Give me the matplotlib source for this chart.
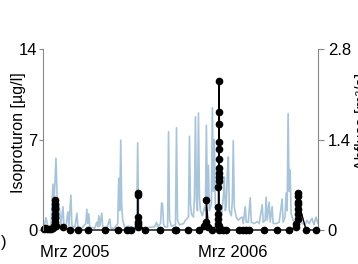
import numpy as np
import matplotlib
matplotlib.use("Agg")
import matplotlib.pyplot as plt

plt.rcParams['font.family'] = ['Liberation Sans', 'DejaVu Sans']

start = np.datetime64('2004-12-17')

# Abfluss (discharge), days since start / m3/s
q_day = [0, 2.3, 6.9, 11.6, 18.5, 23.1, 25.4, 30.0, 32.3, 34.7, 37.0, 41.6, 46.2, 48.5,
         53.1, 57.8, 60.1, 64.7, 67.0, 73.9, 78.5, 80.9, 90.1, 99.3, 101.6, 104.0, 106.3,
         108.6, 120.1, 124.7, 127.1, 129.4, 131.7, 136.3, 138.6, 147.8, 154.8, 157.1,
         166.3, 173.3, 175.6, 177.9, 180.2, 182.5, 184.8, 189.4, 198.7, 210.2, 217.1,
         219.5, 221.8, 224.1, 235.6, 247.2, 258.7, 263.3, 265.7, 272.6, 274.9, 277.2,
         279.5, 281.8, 288.8, 291.1, 293.4, 298.0, 307.2, 309.5, 311.9, 316.5, 325.7,
         330.3, 337.3, 339.6, 341.9, 344.2, 348.8, 351.1, 353.4, 355.8, 358.1, 360.4,
         362.7, 365.0, 369.6, 374.2, 376.5, 378.8, 381.2, 383.5, 385.8, 390.4, 392.7,
         395.0, 397.3, 399.6, 404.3, 408.9, 413.5, 418.1, 420.4, 422.8, 425.1, 427.4,
         429.7, 432.0, 436.6, 438.9, 441.2, 443.5, 448.1, 452.8, 457.4, 462.0, 464.3,
         468.9, 471.2, 475.8, 480.5, 482.8, 489.7, 496.7, 501.3, 508.2, 510.5, 515.1,
         517.4, 519.8, 524.4, 526.7, 531.3, 533.6, 540.5, 547.5, 554.4, 556.7, 561.3,
         563.6, 566.0, 568.3, 570.6, 572.9, 575.2, 579.8, 586.8, 593.7, 598.3, 600.6,
         607.5, 612.2, 616.8, 623.7, 628.3, 632.9, 637.6]
q_val = [0.05, 0.05, 0.19, 0.05, 0.06, 0.71, 0.35, 1.11, 0.62, 0.2, 0.40, 0.08, 0.36, 0.08,
         0.05, 0.28, 0.06, 0.54, 0.07, 0.04, 0.26, 0.05, 0.03, 0.1, 0.32, 0.1, 0.25,
         0.04, 0.03, 0.12, 0.05, 0.22, 0.06, 0.26, 0.04, 0.03, 0.17, 0.03,
         0.03, 0.10, 0.80, 0.3, 1.39, 0.4, 0.15, 0.04, 0.06, 0.03, 0.08,
         1.35, 0.15, 0.05, 0.03, 0.04, 0.05, 0.12, 0.05, 0.1, 0.42, 0.40,
         0.1, 0.05, 0.05, 1.52, 0.15, 0.06, 0.08, 1.58, 0.15, 0.08, 0.1,
         0.15, 0.2, 1.45, 0.4, 0.25, 0.2, 0.5, 1.75, 0.45, 0.3, 1.81,
         0.5, 0.3, 0.22, 0.35, 0.3, 1.62, 0.4, 1.0, 0.3, 0.4, 1.89,
         0.6, 1.4, 0.35, 0.25, 0.3, 0.2, 0.5, 0.82, 0.3, 0.4, 0.88,
         1.13, 0.3, 0.22, 0.45, 1.38, 0.35, 0.2, 0.15, 0.18, 0.2, 0.1,
         0.36, 0.12, 0.12, 0.5, 0.12, 0.1, 0.13, 0.1, 0.39, 0.12, 0.15,
         0.51, 0.15, 0.43, 0.12, 0.36, 0.1, 0.1, 0.12, 0.48, 0.12, 0.2,
         0.57, 0.3, 1.8, 0.6, 0.93, 0.25, 0.15, 0.1, 0.12, 0.2, 0.1,
         0.08, 0.15, 0.1, 0.18, 0.08, 0.2, 0.1]

# Isoproturon, days since start / ug/l
iso_day = [2.3, 4.6, 9.2, 13.9, 18.5, 23.1, 25.4, 27.5, 27.6, 27.7, 27.8, 27.9, 28.0,
           28.2, 28.4, 28.6, 30.0, 46.2, 62.4, 80.9, 104.0, 143.2, 173.3, 194.0, 203.3,
           219.2, 219.3, 219.4, 219.5, 219.6, 219.8, 235.6, 270.3, 304.9, 309.5, 337.3,
           362.7, 374.2, 378.6, 378.8, 383.5, 392.7, 406.4, 406.5, 406.6, 406.7, 406.8,
           406.9, 407.0, 407.1, 407.2, 407.3, 407.4, 407.5, 407.6, 407.7, 407.8, 408.2,
           409.0, 418.0, 425.0, 455.0, 464.0, 471.0, 478.0, 513.0, 543.0, 570.6, 586.8,
           587.5, 591.2, 591.3, 591.4, 591.5, 591.6, 591.7, 591.9, 610.0, 633.0]
iso_val = [0.1, 0.15, 0.1, 0.1, 0.1, 0.15, 0.3, 0.6, 0.9, 1.2, 1.6, 2.0, 2.35,
           1.7, 1.0, 0.4, 0.3, 0.23, 0, 0, 0, 0, 0, 0, 0,
           0.2, 0.6, 1.0, 2.7, 2.9, 0.5, 0, 0, 0, 0, 0,
           0, 0.3, 0.6, 2.3, 0.2, 0, 0.5, 0.85, 1.2, 1.8, 3.3,
           3.8, 4.1, 4.4, 4.8, 5.5, 6.3, 6.8, 8.2, 9.1, 11.5, 0.3,
           0, 0, 0, 0, 0, 0, 0, 0, 0, 0, 0.2,
           0.5, 0.85, 1.2, 1.6, 2.0, 2.6, 2.9, 2.2, 0, 0]

tick_dates = ['2005-03-01', '2006-03-01']
tick_labels = ['Mrz 2005', 'Mrz 2006']

q_t = start + np.round(np.array(q_day) * 24).astype('timedelta64[h]')
iso_t = start + np.round(np.array(iso_day) * 24).astype('timedelta64[h]')

fig = plt.figure(figsize=(3.58, 2.64), dpi=100)
ax = fig.add_axes([43/358, 1 - 230/264, 275/358, 181/264])
ax2 = ax.twinx()

ax2.plot(q_t, q_val, color='#a8c4d9', lw=1.2)
ax2.set_ylim(0, 2.8)
ax2.set_yticks([0, 1.4, 2.8])
ax2.set_yticklabels(['0', '1.4', '2.8'])

ax.plot(iso_t, iso_val, color='black', lw=1.0, marker='o', ms=4.5, clip_on=False)
ax.set_ylim(0, 14)
ax.set_yticks([0, 7, 14])
ax.set_xlim(start, start + np.timedelta64(int(637.6 * 24), 'h'))
ax.set_xticks(np.array(tick_dates, dtype='datetime64[D]'))
ax.set_xticklabels(tick_labels)

ax.set_zorder(ax2.get_zorder() + 1)
ax.patch.set_visible(False)

for a in (ax, ax2):
    a.spines['top'].set_visible(False)
    a.spines['bottom'].set_visible(False)
    a.spines['left'].set_color('#888888')
    a.spines['right'].set_color('#888888')
    a.tick_params(labelsize=12, colors='#888888', labelcolor='black')
ax.spines['right'].set_visible(False)
ax2.spines['left'].set_visible(False)
ax.tick_params(axis='y', length=3, pad=1)
ax2.tick_params(axis='y', length=4, pad=3)
ax.tick_params(axis='x', length=0, pad=11)

ax.set_ylabel('Isoproturon [µg/l]', fontsize=11.5)
ax.yaxis.set_label_coords(-0.06, 0.536)
ax2.set_ylabel('Abfluss [m³/s]', fontsize=11.5, rotation=90)
ax2.yaxis.set_label_coords(1.135, 0.6)

fig.text(1/358, 1 - 243/264, ')', fontsize=12, ha='left', va='center')

fig.savefig('out.png', dpi=100)
